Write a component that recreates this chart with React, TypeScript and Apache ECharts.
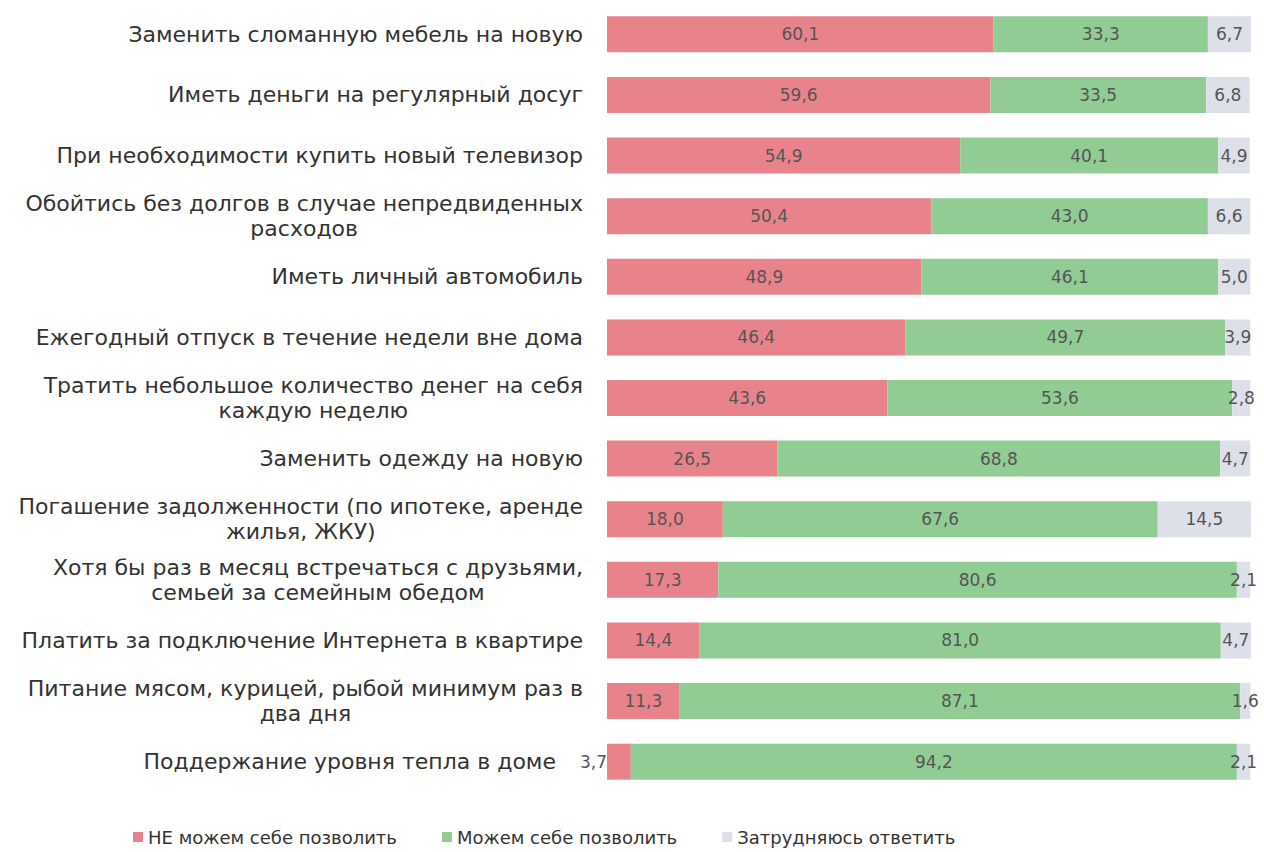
import React, { useEffect, useRef } from "react";
import * as echarts from "echarts";

const categories = [
  "Заменить сломанную мебель на новую",
  "Иметь деньги на регулярный досуг",
  "При необходимости купить новый телевизор",
  "Обойтись без долгов в случае непредвиденных\nрасходов",
  "Иметь личный автомобиль",
  "Ежегодный отпуск в течение недели вне дома",
  "Тратить небольшое количество денег на себя\nкаждую неделю",
  "Заменить одежду на новую",
  "Погашение задолженности (по ипотеке, аренде\nжилья, ЖКУ)",
  "Хотя бы раз в месяц встречаться с друзьями,\nсемьей за семейным обедом",
  "Платить за подключение Интернета в квартире",
  "Питание мясом, курицей, рыбой минимум раз в\nдва дня",
  "Поддержание уровня тепла в доме",
];

const cannotAfford = [60.1, 59.6, 54.9, 50.4, 48.9, 46.4, 43.6, 26.5, 18.0, 17.3, 14.4, 11.3, 3.7];
const canAfford = [33.3, 33.5, 40.1, 43.0, 46.1, 49.7, 53.6, 68.8, 67.6, 80.6, 81.0, 87.1, 94.2];
const hardToSay = [6.7, 6.8, 4.9, 6.6, 5.0, 3.9, 2.8, 4.7, 14.5, 2.1, 4.7, 1.6, 2.1];

const seriesNames = ["НЕ можем себе позволить", "Можем себе позволить", "Затрудняюсь ответить"];
const colors = ["#e8838c", "#90cc94", "#dde0e8"];

const FONT = "'DejaVu Sans', sans-serif";

export default function App() {
  const ref = useRef<HTMLDivElement>(null);
  useEffect(() => {
    if (!ref.current) return;
    const chart = echarts.init(ref.current, undefined, { renderer: "svg" });
    const fmt = (p: any) => Number(p.value).toFixed(1).replace(".", ",");
    const makeSeries = (name: string, data: number[], color: string, idx: number) => ({
      name,
      type: "bar",
      stack: "total",
      barWidth: 36,
      itemStyle: { color },
      label: {
        show: true,
        position: "inside",
        formatter: fmt,
        color: "#555",
        fontSize: 17,
        fontFamily: FONT,
      },
      data: data.map((v) =>
        idx === 0 && v < 5
          ? { value: v, label: { position: "left", distance: 0 } }
          : v
      ),
    });
    const labelStyle = {
      align: "center",
      fontSize: 22,
      lineHeight: 25,
      color: "#333",
      fontFamily: FONT,
    };
    chart.setOption({
      animation: false,
      textStyle: { fontFamily: FONT },
      color: colors,
      grid: { left: 607, right: 13, top: 4, bottom: 60, containLabel: false },
      xAxis: {
        type: "value",
        min: 0,
        max: 100.1,
        show: false,
        splitLine: { show: false },
      },
      yAxis: {
        type: "category",
        inverse: true,
        data: categories,
        axisLine: { show: false },
        axisTick: { show: false },
        axisLabel: {
          margin: 24,
          align: "right",
          formatter: (v: string, i: number) => {
            const key = cannotAfford[i] < 5 ? "p" : "c";
            return v
              .split("\n")
              .map((l) => `{${key}|${l}}`)
              .join("\n");
          },
          rich: {
            c: labelStyle,
            p: { ...labelStyle, padding: [0, 27, 0, 0] },
          },
        },
      },
      legend: {
        top: 823,
        left: 128,
        itemWidth: 10,
        itemHeight: 10,
        itemGap: 45,
        icon: "rect",
        data: seriesNames,
        textStyle: { fontSize: 18, color: "#333", fontFamily: FONT },
      },
      series: [
        makeSeries(seriesNames[0], cannotAfford, colors[0], 0),
        makeSeries(seriesNames[1], canAfford, colors[1], 1),
        makeSeries(seriesNames[2], hardToSay, colors[2], 2),
      ],
    });
    return () => chart.dispose();
  }, []);
  return (
    <div
      ref={ref}
      style={{ position: "absolute", left: 0, top: 0, width: 1264, height: 852 }}
    />
  );
}
